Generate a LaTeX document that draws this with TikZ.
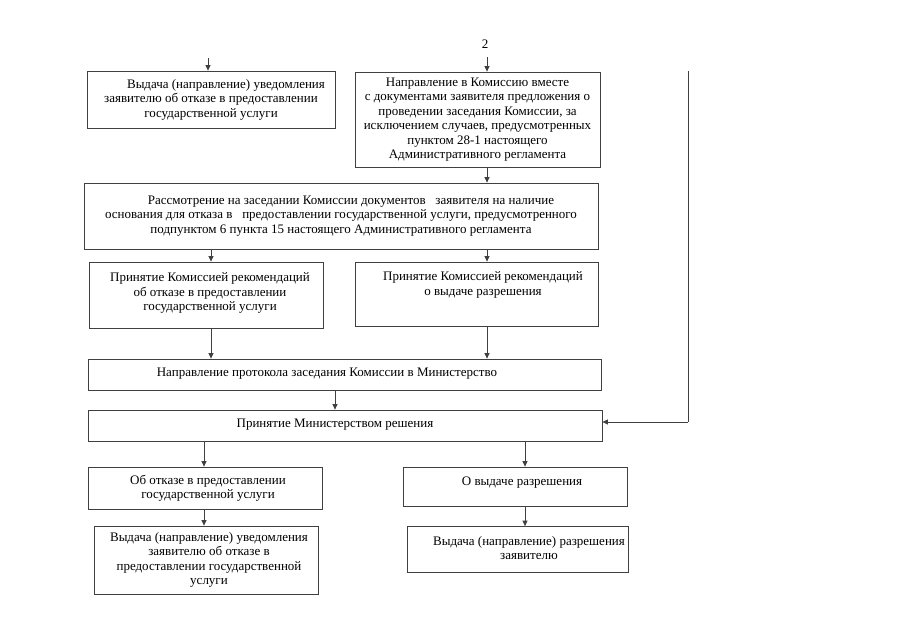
\documentclass[tikz,border=0pt]{standalone}
\usepackage{fontspec}
\setmainfont{Liberation Serif}
\usetikzlibrary{arrows.meta}
\tikzset{
  bx/.style={draw=black!75, line width=0.8bp, inner sep=0pt, align=center,
    font=\fontsize{13bp}{14.5bp}\selectfont},
  txt/.style={inner sep=0pt, align=center, font=\fontsize{13bp}{14.5bp}\selectfont},
  arr/.style={draw=black!75, line width=0.8bp, -{Triangle[length=5.5bp,width=5bp]}},
  ln/.style={draw=black!75, line width=0.8bp}
}
\begin{document}
\begin{tikzpicture}[x=1bp,y=-1bp]
\useasboundingbox (0,0) rectangle (905,640);
\fill[white] (0,0) rectangle (905,640);
\node[txt] (pg) at (485,44) {2};
% boxes
\node[bx, minimum width=248bp, minimum height=57bp] (A) at (211,99.5)
  {\hspace*{30bp}Выдача (направление) уведомления\\заявителю об отказе в предоставлении\\государственной услуги};
\node[bx, minimum width=245bp, minimum height=95bp] (B) at (477.5,119.5)
  {Направление в Комиссию вместе\\с документами заявителя предложения о\\проведении заседания Комиссии, за\\исключением случаев, предусмотренных\\пунктом 28-1 настоящего\\Административного регламента};
\node[bx, minimum width=514bp, minimum height=66bp] (C) at (341,216)
  {\hspace*{20bp}Рассмотрение на заседании Комиссии документов \ \ заявителя на наличие\\основания для отказа в \ \ предоставлении государственной услуги, предусмотренного\\подпунктом 6 пункта 15 настоящего Административного регламента};
\node[bx, minimum width=234bp, minimum height=66bp] (D) at (206,295) {};
\node[txt] (Dt) at (210,293)
  {Принятие Комиссией рекомендаций\\об отказе в предоставлении\\государственной услуги};
\node[bx, minimum width=243bp, minimum height=64bp] (E) at (476.5,294) {};
\node[txt] (Et) at (483,285) {Принятие Комиссией рекомендаций\\о выдаче разрешения};
\node[bx, minimum width=513bp, minimum height=31bp] (F) at (344.5,374.5) {};
\node[txt] (Ft) at (327,373.5) {Направление протокола заседания Комиссии в Министерство};
\node[bx, minimum width=514bp, minimum height=31bp] (G) at (345,425.5) {};
\node[txt] (Gt) at (335,424.5) {Принятие Министерством решения};
\node[bx, minimum width=234bp, minimum height=42bp] (H) at (205.5,488) {};
\node[txt] (Ht) at (208,488) {Об отказе в предоставлении\\государственной услуги};
\node[bx, minimum width=224bp, minimum height=39bp] (I) at (515,486.5) {};
\node[txt] (It) at (522,483) {О выдаче разрешения};
\node[bx, minimum width=224bp, minimum height=68bp] (J) at (206,560) {};
\node[txt] (Jt) at (209,560)
  {Выдача (направление) уведомления\\заявителю об отказе в\\предоставлении государственной\\услуги};
\node[bx, minimum width=221bp, minimum height=46bp] (K) at (517.5,549.5) {};
\node[txt] (Kt) at (529,548)
  {Выдача (направление) разрешения\\заявителю};
% connectors
\coordinate (a0) at (208,58);
\coordinate (b0) at (487,57);
\coordinate (r0) at (688,71);
\coordinate (r1) at (688,422);
\draw[arr] (a0) -- (a0 |- A.north);
\draw[arr] (b0) -- (b0 |- B.north);
\draw[arr] (B.south -| b0) -- (b0 |- C.north);
\coordinate (c1) at (211,0);
\draw[arr] (C.south -| c1) -- (c1 |- D.north);
\draw[arr] (C.south -| b0) -- (b0 |- E.north);
\draw[arr] (D.south -| c1) -- (c1 |- F.north);
\draw[arr] (E.south -| b0) -- (b0 |- F.north);
\coordinate (f1) at (335,0);
\draw[arr] (F.south -| f1) -- (f1 |- G.north);
\draw[ln] (r0) -- (r1);
\draw[arr] (r1) -- (r1 -| G.east);
\coordinate (g1) at (204,0);
\coordinate (g2) at (525,0);
\draw[arr] (G.south -| g1) -- (g1 |- H.north);
\draw[arr] (G.south -| g2) -- (g2 |- I.north);
\draw[arr] (H.south -| g1) -- (g1 |- J.north);
\draw[arr] (I.south -| g2) -- (g2 |- K.north);
\end{tikzpicture}
\end{document}
